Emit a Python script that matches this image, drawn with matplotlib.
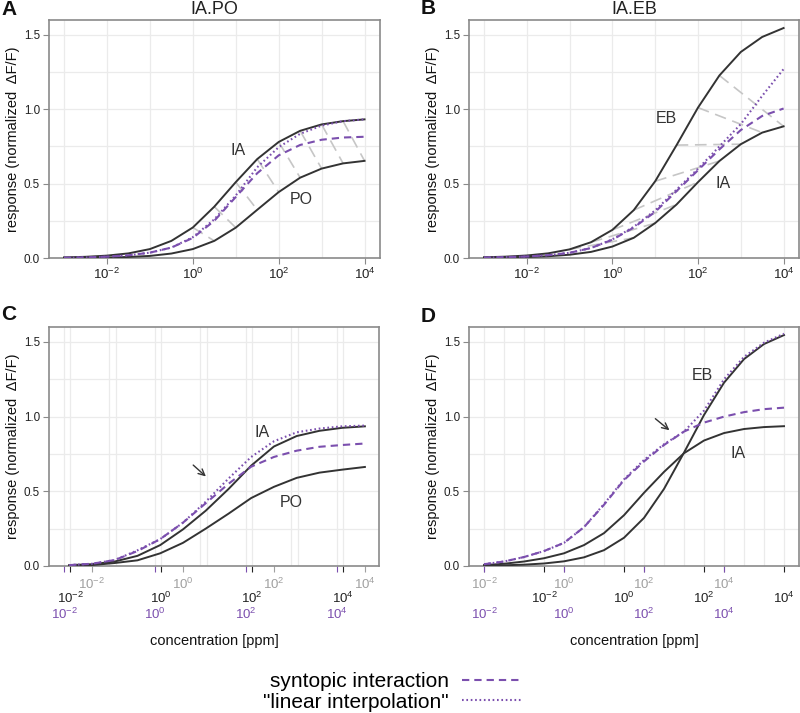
import matplotlib.pyplot as plt
from matplotlib.lines import Line2D

plt.rcParams['font.family'] = ['Liberation Sans', 'DejaVu Sans']
plt.rcParams['mathtext.fontset'] = 'custom'
plt.rcParams['mathtext.rm'] = 'Liberation Sans'
plt.rcParams['mathtext.it'] = 'Liberation Sans:italic'
plt.rcParams['mathtext.bf'] = 'Liberation Sans:bold'

PURPLE = '#7b4fae'
DARK = '#333333'
TIE = '#c6c6c6'
GRID = '#ebebeb'
FRAME = '#8a8a8a'
GREYLAB = '#a0a0a0'

# log10 concentration grid for panels A and B
x_ab = [-3, -2.5, -2, -1.5, -1, -0.5, 0, 0.5, 1, 1.5, 2, 2.5, 3, 3.5, 4]

# panel A (IA.PO)
ia_A = [0.004, 0.008, 0.016, 0.031, 0.06, 0.115, 0.205, 0.345, 0.51, 0.665, 0.78, 0.855, 0.898, 0.92, 0.932]
po_A = [0.001, 0.002, 0.0035, 0.007, 0.014, 0.03, 0.06, 0.115, 0.204, 0.324, 0.443, 0.54, 0.601, 0.636, 0.653]
syn_A = [0.002, 0.004, 0.009, 0.018, 0.036, 0.07, 0.135, 0.25, 0.41, 0.57, 0.69, 0.76, 0.795, 0.81, 0.815]
lin_A = [0.002, 0.004, 0.009, 0.018, 0.036, 0.07, 0.14, 0.26, 0.42, 0.61, 0.745, 0.835, 0.89, 0.92, 0.932]

# panel B (IA.EB)
eb_B = [0.0048, 0.009, 0.0168, 0.0313, 0.058, 0.106, 0.189, 0.322, 0.516, 0.759, 1.011, 1.227, 1.385, 1.486, 1.546]
ia_B = [0.0017, 0.0033, 0.0062, 0.0117, 0.022, 0.041, 0.077, 0.136, 0.235, 0.36, 0.51, 0.652, 0.765, 0.843, 0.885]
syn_B = [0.003, 0.006, 0.01, 0.019, 0.035, 0.067, 0.123, 0.205, 0.31, 0.45, 0.59, 0.73, 0.86, 0.955, 1.005]
lin_B = [0.003, 0.006, 0.01, 0.019, 0.035, 0.067, 0.125, 0.21, 0.32, 0.46, 0.6, 0.75, 0.9, 1.09, 1.27]

# panel C, x in the grey-axis units
x_C = [-2.5, -2, -1.5, -1, -0.5, 0, 0.5, 1, 1.5, 2, 2.5, 3, 3.5, 4]
ia_C = [0.006, 0.012, 0.03, 0.068, 0.14, 0.245, 0.37, 0.515, 0.672, 0.8, 0.87, 0.905, 0.925, 0.935]
po_C = [0.003, 0.006, 0.02, 0.038, 0.085, 0.155, 0.25, 0.35, 0.455, 0.53, 0.59, 0.625, 0.645, 0.663]
syn_C = [0.006, 0.015, 0.04, 0.1, 0.18, 0.29, 0.42, 0.55, 0.665, 0.73, 0.772, 0.798, 0.81, 0.82]
lin_C = [0.006, 0.015, 0.04, 0.105, 0.18, 0.29, 0.43, 0.585, 0.73, 0.835, 0.895, 0.92, 0.935, 0.94]

# panel D, x in the grey-axis units
x_D = [-2, -1.5, -1, -0.5, 0, 0.5, 1, 1.5, 2, 2.5, 3, 3.5, 4, 4.5, 5, 5.5]
ia_D = [0.006, 0.015, 0.03, 0.052, 0.085, 0.14, 0.22, 0.34, 0.49, 0.63, 0.755, 0.84, 0.89, 0.917, 0.93, 0.936]
eb_D = [0.0025, 0.0048, 0.009, 0.0168, 0.0313, 0.058, 0.106, 0.189, 0.322, 0.516, 0.759, 1.011, 1.227, 1.385, 1.486, 1.546]
syn_D = [0.012, 0.03, 0.06, 0.1, 0.155, 0.26, 0.41, 0.575, 0.7, 0.81, 0.9, 0.96, 1.0, 1.03, 1.05, 1.06]
lin_D = [0.012, 0.03, 0.06, 0.1, 0.155, 0.26, 0.415, 0.58, 0.71, 0.815, 0.9, 1.04, 1.25, 1.4, 1.495, 1.555]

# offsets of the black / purple concentration scales relative to the grey one
off_C = {'grey': 0.0, 'black': 0.48, 'purple': 0.615}
off_D = {'grey': 0.0, 'black': -1.5, 'purple': 0.0}

dec_ticks = [-2, 0, 2, 4]
dec_labels = [r'$10^{-2}$', r'$10^{0}$', r'$10^{2}$', r'$10^{4}$']

fig = plt.figure(figsize=(8, 7.13), dpi=100)
W, H = 800, 713


def make_axes(left, top, right, bottom):
    return fig.add_axes([left / W, 1 - bottom / H, (right - left) / W, (bottom - top) / H])


def style(ax, xlim, vlines):
    ax.set_xlim(xlim)
    ax.set_ylim(0, 1.6)
    for v in vlines:
        ax.axvline(v, color=GRID, lw=0.9, zorder=0)
    for h in [0.25, 0.5, 0.75, 1.0, 1.25, 1.5]:
        ax.axhline(h, color=GRID, lw=0.9, zorder=0)
    for s in ax.spines.values():
        s.set_color(FRAME)
        s.set_linewidth(1.2)
    ax.set_yticks([0, 0.5, 1.0, 1.5], labels=['0.0', '0.5', '1.0', '1.5'])
    ax.tick_params(axis='y', color=FRAME, labelcolor='#222222', labelsize=8.4, length=4.5, pad=2)
    ax.set_ylabel('response (normalized  ΔF/F)', fontsize=10.5, color='#111111', labelpad=3)


def curves(ax, x, a, b, syn, lin):
    ax.plot(x, a, color=DARK, lw=1.4, zorder=3)
    ax.plot(x, b, color=DARK, lw=1.4, zorder=3)
    ax.plot(x, syn, color=PURPLE, lw=1.5, ls=(0, (3.5, 2.4)), zorder=4)
    ax.plot(x, lin, color=PURPLE, lw=1.5, ls=(0, (0.8, 1.3)), zorder=4)


def three_scales(ax, offs):
    ax.set_xticks([])
    rows = [('grey', GREYLAB, GREYLAB, 3.6), ('black', '#222222', '#222222', 13.6),
            ('purple', PURPLE, PURPLE, 24.6)]
    for name, tcol, lcol, pad in rows:
        o = offs[name]
        sec = ax.secondary_xaxis('bottom', functions=(lambda v, o=o: v + o, lambda v, o=o: v - o))
        sec.set_xticks(dec_ticks, labels=dec_labels)
        sec.tick_params(axis='x', color=tcol, labelcolor=lcol, labelsize=9.5, length=4.5, pad=pad)
        sec.spines['bottom'].set_visible(False)


# ---- A ----
axA = make_axes(49, 20, 380, 258)
style(axA, (-3.35, 4.36), range(-3, 5))
for i in range(6, len(x_ab) - 1):
    axA.plot([x_ab[i], x_ab[i + 1]], [ia_A[i], po_A[i + 1]], color=TIE, lw=1.2,
             ls=(0, (7, 4)), zorder=2)
curves(axA, x_ab, ia_A, po_A, syn_A, lin_A)
axA.set_xticks(dec_ticks, labels=dec_labels)
axA.tick_params(axis='x', color=FRAME, labelcolor='#222222', labelsize=9.5, length=4.5, pad=1.5)
axA.set_title('IA.PO', fontsize=13, color='#222222', pad=4.3)
axA.text(1.05, 0.725, 'IA', fontsize=11.5, color=DARK, ha='center', va='center')
axA.text(2.53, 0.39, 'PO', fontsize=11.5, color=DARK, ha='center', va='center')

# ---- B ----
axB = make_axes(469, 20, 799, 258)
style(axB, (-3.35, 4.36), range(-3, 5))
for i in range(4, len(x_ab) - 3):
    axB.plot([x_ab[i], x_ab[i + 3]], [eb_B[i], ia_B[i + 3]], color=TIE, lw=1.2,
             ls=(0, (7, 4)), zorder=2)
curves(axB, x_ab, eb_B, ia_B, syn_B, lin_B)
axB.set_xticks(dec_ticks, labels=dec_labels)
axB.tick_params(axis='x', color=FRAME, labelcolor='#222222', labelsize=9.5, length=4.5, pad=1.5)
axB.set_title('IA.EB', fontsize=13, color='#222222', pad=4.3)
axB.text(1.25, 0.94, 'EB', fontsize=11.5, color=DARK, ha='center', va='center')
axB.text(2.58, 0.504, 'IA', fontsize=11.5, color=DARK, ha='center', va='center')

# ---- C ----
axC = make_axes(49, 327, 379, 566)
grid_C = [k - off_C['black'] for k in range(-2, 5)] + [k - off_C['purple'] for k in range(-2, 5)]
style(axC, (-2.945, 4.31), grid_C)
curves(axC, x_C, ia_C, po_C, syn_C, lin_C)
three_scales(axC, off_C)
axC.set_xlabel('concentration [ppm]', fontsize=10.5, color='#111111', labelpad=49)
axC.text(1.74, 0.895, 'IA', fontsize=11.5, color=DARK, ha='center', va='center')
axC.text(2.37, 0.427, 'PO', fontsize=11.5, color=DARK, ha='center', va='center')
axC.annotate('', xy=(0.55, 0.587), xytext=(0.18, 0.688),
             arrowprops=dict(arrowstyle='->,head_length=0.45,head_width=0.22', color=DARK, lw=1.0))

# ---- D ----
axD = make_axes(469, 327, 799, 566)
grid_D = [k for k in range(-2, 6)] + [k - off_D['black'] for k in range(-3, 5)]
style(axD, (-2.375, 5.875), grid_D)
curves(axD, x_D, ia_D, eb_D, syn_D, lin_D)
three_scales(axD, off_D)
axD.set_xlabel('concentration [ppm]', fontsize=10.5, color='#111111', labelpad=49)
axD.text(3.45, 1.277, 'EB', fontsize=11.5, color=DARK, ha='center', va='center')
axD.text(4.35, 0.755, 'IA', fontsize=11.5, color=DARK, ha='center', va='center')
axD.annotate('', xy=(2.69, 0.897), xytext=(2.23, 0.998),
             arrowprops=dict(arrowstyle='->,head_length=0.45,head_width=0.22', color=DARK, lw=1.0))

# panel letters
for lab, px, py in [('A', 1, 15), ('B', 421, 14), ('C', 1, 320), ('D', 421, 322)]:
    fig.text(px / W, 1 - py / H, lab, fontsize=15, fontweight='bold', color='#111111',
             ha='left', va='baseline')

handles = [Line2D([], [], color=PURPLE, lw=1.5, ls=(0, (3.5, 2.4))),
           Line2D([], [], color=PURPLE, lw=1.5, ls=(0, (0.8, 1.3)))]
fig.legend(handles, ['syntopic interaction', '"linear interpolation"'], loc='center',
           bbox_to_anchor=(393 / W, 1 - 692 / H), frameon=False, markerfirst=False,
           fontsize=15, handlelength=2.93, handletextpad=0.62, labelspacing=0.05,
           borderpad=0, borderaxespad=0)

fig.savefig('out.png', dpi=100)
